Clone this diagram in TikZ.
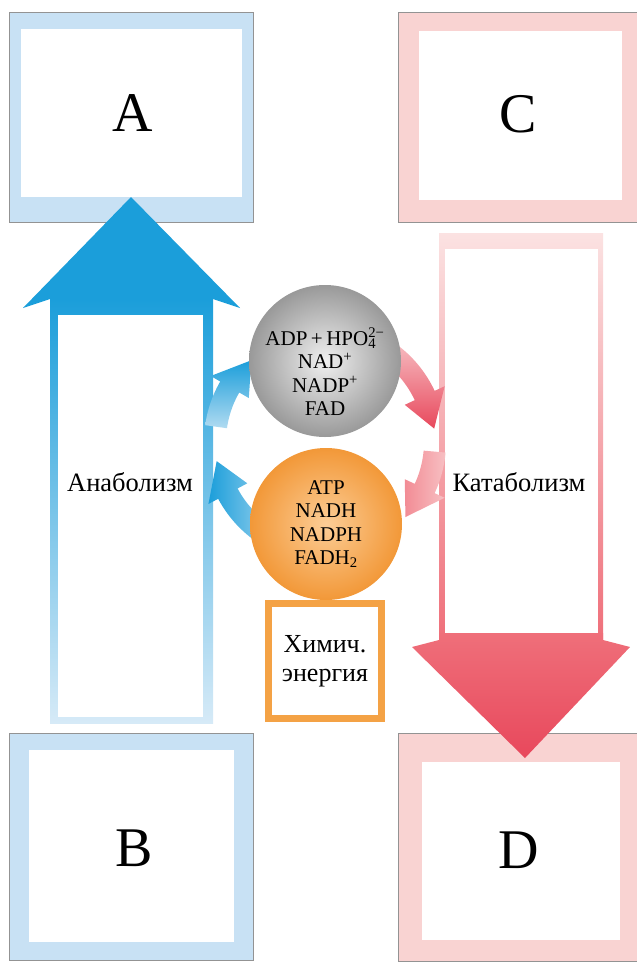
\documentclass[tikz,border=0pt]{standalone}
\usepackage{fontspec}
\setmainfont{Liberation Serif}
\usepackage{tikz}

\definecolor{paleblue}{HTML}{C8E1F4}
\definecolor{palered}{HTML}{F9D3D2}
\definecolor{bluearrow}{HTML}{1B9EDA}
\definecolor{bluefade}{HTML}{D6EAF7}
\definecolor{redarrow}{HTML}{E8485C}
\definecolor{redmid}{HTML}{EF6F7A}
\definecolor{redfade}{HTML}{FBE2E2}
\definecolor{orangebox}{HTML}{F4A245}

% curved arrow on the ring: tail angle, head start, tip angle, shading
\newcommand{\cycarrow}[4]{%
  \shade[#4] plot[domain=#1:#2, samples=20] ({325+121*cos(\x)},{442+121*sin(\x)})
    -- ({325+132*cos(#2)},{442+132*sin(#2)})
    -- ({325+110*cos(#3)},{442+110*sin(#3)})
    -- ({325+88*cos(#2)},{442+88*sin(#2)})
    -- plot[domain=#2:#1, samples=20] ({325+99*cos(\x)},{442+99*sin(\x)}) -- cycle;}

\begin{document}
\begin{tikzpicture}[x=1pt, y=-1pt,
    frame/.style={draw=gray!85, line width=0.8pt},
    letter/.style={font=\fontsize{56}{60}\selectfont},
    proc/.style={font=\fontsize{26.5}{30}\selectfont},
    ball/.style={circle, minimum size=152pt, inner sep=0pt},
    balltext/.style={align=center, inner sep=0pt, font=\fontsize{21}{23.5}\selectfont}]
  \useasboundingbox (0,0) rectangle (637,962);
  \clip (0,0) rectangle (637,962);

  % end products
  \filldraw[frame, fill=paleblue] (9,12)   rectangle (253,222);
  \fill[white]                    (21,29)  rectangle (242,197);
  \filldraw[frame, fill=paleblue] (9,733)  rectangle (253,960);
  \fill[white]                    (29,750) rectangle (234,942);
  \filldraw[frame, fill=palered]  (398,12)  rectangle (650,222);
  \fill[white]                    (419,31)  rectangle (622,200);
  \filldraw[frame, fill=palered]  (398,733) rectangle (650,961);
  \fill[white]                    (422,762) rectangle (620,940);

  \node[letter] (A) at (133,113) {A};
  \node[letter] (B) at (134,848) {B};
  \node[letter] (C) at (518,114) {C};
  \node[letter] (D) at (519,850) {D};

  % anabolism, going up
  \shade[top color=bluearrow, bottom color=bluefade] (50,299) rectangle (213,723);
  \fill[white] (58,315) rectangle (203,717);
  \fill[bluearrow] (50,299) -- (23,308) -- (131,197) -- (240,308) -- (213,299) -- cycle;

  % catabolism, going down
  \shade[top color=redfade, bottom color=redmid] (439,233) rectangle (603,640);
  \fill[white] (445,249) rectangle (598,633);
  \shade[top color=redmid, bottom color=redarrow]
    (439,633) -- (439,640) -- (412,647) -- (525,758) -- (630,647) -- (603,640) -- (603,633) -- cycle;

  \node[proc] (ana) at (130,482) {Анаболизм};
  \node[proc] (kat) at (519,482) {Катаболизм};

  % the small cycle
  \cycarrow{188}{210}{228}{top color=bluearrow, bottom color=bluefade!80!bluearrow}
  \cycarrow{120}{152}{170}{left color=bluearrow, right color=bluefade!70!bluearrow}
  \cycarrow{300}{335}{353}{top color=redfade!80!redarrow, bottom color=redarrow}
  \cycarrow{5}{25}{43}{left color=redmid!80!white, right color=redfade!70!redmid}

  \node[ball, inner color=gray!12, outer color=gray!80] (G) at (325,361) {};
  \node[ball, inner color={rgb,255:red,252;green,205;blue,150},
        outer color={rgb,255:red,242;green,152;blue,56}] (O) at (326,524) {};
  \node[balltext] (Gt) at (325,372)
    {ADP\,+\,HPO\rlap{\textsubscript{4}}\textsuperscript{2\char"2212}\\NAD\textsuperscript{+}\\NADP\textsuperscript{+}\\FAD};
  \node[balltext] (Ot) at (326,524)
    {ATP\\NADH\\NADPH\\FADH\textsubscript{2}};

  \node[draw=orangebox, line width=7pt, minimum width=113pt, minimum height=115pt,
        inner sep=0pt, align=center, font=\fontsize{26}{29}\selectfont] (E) at (325,661)
    {Химич.\\энергия};
\end{tikzpicture}
\end{document}
